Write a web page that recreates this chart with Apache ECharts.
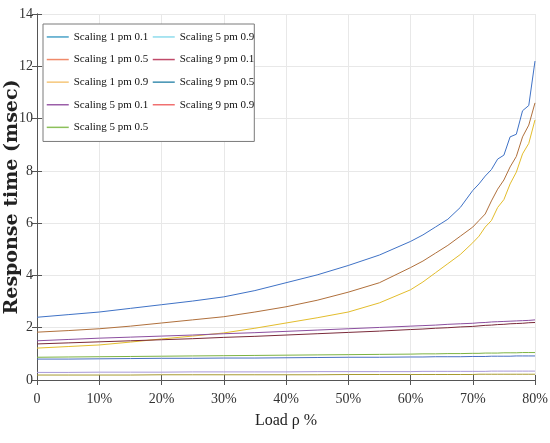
<!DOCTYPE html>
<html>
<head>
<meta charset="utf-8">
<script src="https://cdn.jsdelivr.net/npm/echarts@6/dist/echarts.min.js"></script>
<style>html,body{margin:0;padding:0;background:#fff}#c{width:550px;height:443px}</style>
</head>
<body>
<div id="c"></div>
<script>
// Load ρ (%) sample positions
const loads = [0,5,10,15,20,25,30,35,40,45,50,55,60,62,64,66,68,70,71,72,73,74,75,76,77,78,79,80];

// Response times (msec)
const s1_01 = [2.40,2.50,2.60,2.74,2.88,3.02,3.18,3.42,3.72,4.02,4.38,4.78,5.30,5.55,5.85,6.15,6.60,7.25,7.50,7.80,8.05,8.45,8.60,9.30,9.40,10.30,10.50,12.20];
const s1_05 = [1.83,1.89,1.96,2.06,2.18,2.30,2.42,2.60,2.80,3.05,3.36,3.72,4.30,4.55,4.85,5.15,5.50,5.85,6.10,6.35,6.85,7.30,7.65,8.15,8.55,9.30,9.75,10.60];
const s1_09 = [1.22,1.28,1.34,1.45,1.57,1.68,1.80,1.98,2.18,2.38,2.60,2.95,3.45,3.75,4.10,4.45,4.80,5.25,5.50,5.85,6.10,6.60,6.90,7.50,7.95,8.65,9.05,9.95];
const s5_01 = [1.50,1.55,1.60,1.64,1.68,1.72,1.77,1.81,1.86,1.91,1.96,2.01,2.06,2.08,2.10,2.13,2.15,2.17,2.19,2.20,2.22,2.23,2.24,2.25,2.26,2.27,2.28,2.30];
const s5_05 = [0.87,0.88,0.89,0.90,0.91,0.92,0.93,0.94,0.95,0.96,0.97,0.98,0.99,1.00,1.00,1.01,1.01,1.02,1.02,1.03,1.03,1.03,1.04,1.04,1.04,1.05,1.05,1.05];
const s5_09 = [0.29,0.29,0.30,0.30,0.30,0.31,0.31,0.31,0.31,0.32,0.32,0.32,0.32,0.33,0.33,0.33,0.33,0.33,0.33,0.33,0.34,0.34,0.34,0.34,0.34,0.34,0.34,0.34];
const s9_01 = [1.38,1.42,1.46,1.50,1.54,1.58,1.63,1.67,1.72,1.77,1.82,1.87,1.93,1.95,1.98,2.00,2.03,2.05,2.07,2.09,2.10,2.12,2.13,2.15,2.16,2.17,2.19,2.20];
const s9_05 = [0.80,0.80,0.81,0.82,0.83,0.83,0.84,0.84,0.85,0.86,0.87,0.87,0.88,0.88,0.89,0.89,0.89,0.90,0.90,0.90,0.91,0.91,0.91,0.91,0.92,0.92,0.92,0.92];
const s9_09 = [0.19,0.19,0.19,0.19,0.20,0.20,0.20,0.20,0.20,0.20,0.21,0.21,0.21,0.21,0.21,0.21,0.21,0.21,0.22,0.22,0.22,0.22,0.22,0.22,0.22,0.22,0.22,0.22];

const names = ['Scaling 1 pm 0.1','Scaling 1 pm 0.5','Scaling 1 pm 0.9','Scaling 5 pm 0.1','Scaling 5 pm 0.5',
               'Scaling 5 pm 0.9','Scaling 9 pm 0.1','Scaling 9 pm 0.5','Scaling 9 pm 0.9'];
const values = [s1_01,s1_05,s1_09,s5_01,s5_05,s5_09,s9_01,s9_05,s9_09];
const lineColors = ['#3f72c6','#b0703c','#e3bd2c','#8c4fa0','#7cb342','#a898d8','#7a2a3a','#4a6fc2','#a89a30'];
const legendColors = ['#4aa3c8','#f08a6a','#f5c77a','#9b5ea8','#8cc05a','#8fdcec','#c04a6a','#3d8fb0','#f07070'];
const xTicks = [0,10,20,30,40,50,60,70,80];

const serif = 'Liberation Serif';
const chart = echarts.init(document.getElementById('c'), null, {renderer:'canvas'});

const series = names.map((n,i)=>({
  name:n, type:'line', symbol:'none', showSymbol:false, animation:false,
  data: loads.map((x,j)=>[x, values[i][j]]),
  lineStyle:{width:1, color:lineColors[i]}, itemStyle:{color:lineColors[i]}
}));
const legendItem = i => ({name:names[i], lineStyle:{color:legendColors[i], width:1.5}});

chart.setOption({
  backgroundColor:'#fff',
  animation:false,
  grid:{left:37, right:15, top:14, bottom:63, containLabel:false, outerBoundsMode:'none'},
  legend:[
    {show:true, orient:'vertical', left:43, top:24, z:4, itemWidth:22, itemHeight:14, itemGap:11.4,
     padding:[7.35,106,8.5,3], backgroundColor:'#fff', borderColor:'#7a7a7a', borderWidth:1,
     itemStyle:{opacity:0},
     textStyle:{fontFamily:serif, fontSize:11, color:'#111'},
     data:[0,1,2,3,4].map(legendItem)},
    {show:true, orient:'vertical', left:152, top:31.35, z:5, itemWidth:22, itemHeight:14, itemGap:11.4,
     padding:0, itemStyle:{opacity:0},
     textStyle:{fontFamily:serif, fontSize:11, color:'#111'},
     data:[5,6,7,8].map(legendItem)}
  ],
  xAxis:[
    {type:'value', min:0, max:80, interval:10, name:'Load ρ %', nameLocation:'middle', nameGap:33,
     nameMoveOverlap:false,
     nameTextStyle:{fontFamily:serif, fontSize:16, color:'#222'},
     axisLine:{show:true, lineStyle:{color:'#555'}}, axisTick:{inside:true, length:5, lineStyle:{color:'#555'}},
     axisLabel:{fontFamily:serif, fontSize:14, color:'#333', margin:12,
       formatter:v=> xTicks.indexOf(v)<0 ? '' : (v===0?'0':v+'%')},
     splitLine:{show:true, lineStyle:{color:'#e8e8e8'}}},
    {type:'value', min:0, max:80, interval:10, position:'top',
     axisLine:{show:true, lineStyle:{color:'#555'}}, axisTick:{inside:true, length:5, lineStyle:{color:'#555'}},
     axisLabel:{show:false}, splitLine:{show:false}}
  ],
  yAxis:[
    {type:'value', min:0, max:14, interval:2, name:'Response time (msec)', nameLocation:'middle', nameGap:15,
     nameMoveOverlap:false,
     nameTextStyle:{fontFamily:'DejaVu Serif', fontWeight:'bold', fontSize:19, color:'#222'},
     axisLine:{show:true, lineStyle:{color:'#555'}}, axisTick:{inside:true, length:5, lineStyle:{color:'#555'}},
     axisLabel:{fontFamily:serif, fontSize:14, color:'#333', margin:4},
     splitLine:{show:true, lineStyle:{color:'#e8e8e8'}}},
    {type:'value', min:0, max:14, interval:2, position:'right',
     axisLine:{show:true, lineStyle:{color:'#555'}}, axisTick:{inside:true, length:5, lineStyle:{color:'#555'}},
     axisLabel:{show:false}, splitLine:{show:false}}
  ],
  series: series
});
</script>
</body>
</html>
